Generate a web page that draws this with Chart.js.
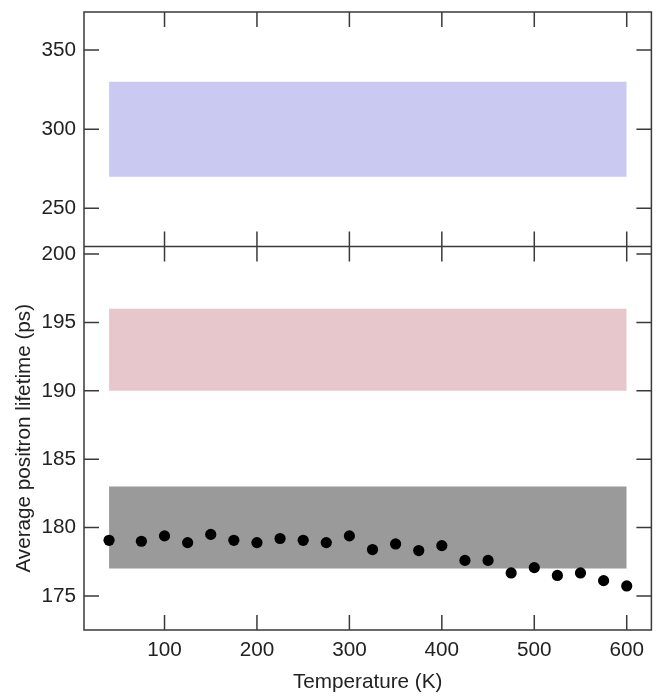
<!DOCTYPE html>
<html><head><meta charset="utf-8">
<script src="https://cdn.jsdelivr.net/npm/chart.js@4/dist/chart.umd.min.js"></script>
<style>html,body{margin:0;padding:0;background:#fff}#wrap{width:657px;height:697px}</style>
</head><body><div id="wrap"><canvas id="c" width="657" height="697"></canvas></div>
<script>
// ---- data ----
const temperatures = [40,75,100,125,150,175,200,225,250,275,300,325,350,375,400,425,450,475,500,525,550,575,600];
const lifetimes   = [179.07,179.0,179.39,178.9,179.5,179.07,178.9,179.2,179.07,178.9,179.39,178.39,178.8,178.32,178.68,177.6,177.6,176.68,177.07,176.5,176.68,176.12,175.73];
const bandRange = [40, 600];
const blueBand  = [270, 330];
const pinkBand  = [190, 196];
const greyBand  = [177, 183];
const xTicks      = [100,200,300,400,500,600];
const topTicks    = [250,300,350];
const bottomTicks = [175,180,185,190,195,200];

const FONT = {family:"'Liberation Sans', Arial, sans-serif", size:20.7};
const TXT = '#222';

function bandEdge(v){ return bandRange.map(x => ({x, y:v})); }
function bandSets(range, color, axis){
  return [
    {type:'line', data:bandEdge(range[1]), yAxisID:axis, borderWidth:0, pointRadius:0, fill:'+1', backgroundColor:color, order:2},
    {type:'line', data:bandEdge(range[0]), yAxisID:axis, borderWidth:0, pointRadius:0, fill:false, backgroundColor:color, order:2}
  ];
}

const frame = {
  id:'frame',
  afterDraw(chart){
    const {ctx, chartArea:a, scales} = chart;
    const x = scales.x, yt = scales.yTop, yb = scales.yBot;
    const L = 15;
    const mid = yb.top;
    ctx.save();
    ctx.strokeStyle = '#3a3a3a'; ctx.lineWidth = 1.5;
    ctx.beginPath();
    ctx.rect(a.left, a.top, a.right-a.left, a.bottom-a.top);
    ctx.moveTo(a.left, mid); ctx.lineTo(a.right, mid);
    x.ticks.forEach(t => {
      const px = x.getPixelForValue(t.value);
      ctx.moveTo(px, a.top); ctx.lineTo(px, a.top+L);
      ctx.moveTo(px, mid-L); ctx.lineTo(px, mid+L);
      ctx.moveTo(px, a.bottom); ctx.lineTo(px, a.bottom-L);
    });
    [yt, yb].forEach(s => s.ticks.forEach(t => {
      const py = s.getPixelForValue(t.value);
      ctx.moveTo(a.left, py); ctx.lineTo(a.left+L, py);
      ctx.moveTo(a.right, py); ctx.lineTo(a.right-L, py);
    }));
    ctx.stroke();
    ctx.restore();
  }
};

const yCommon = {
  type:'linear', position:'left', stack:'panels',
  grid:{display:false, drawTicks:false}, border:{display:false},
  ticks:{font:FONT, color:TXT, padding:8},
  afterFit(s){ s.width = 84; s.paddingTop = 0; s.paddingBottom = 0; }
};

new Chart(document.getElementById('c'), {
  type:'scatter',
  data:{datasets:[
    {type:'scatter', data:temperatures.map((t,i)=>({x:t, y:lifetimes[i]})), yAxisID:'yBot',
     pointRadius:5.6, pointBackgroundColor:'#000', pointBorderWidth:0, order:0},
    ...bandSets(blueBand, '#c9c9f1', 'yTop'),
    ...bandSets(pinkBand, '#e7c7cb', 'yBot'),
    ...bandSets(greyBand, '#9a9a9a', 'yBot')
  ]},
  options:{
    responsive:false, animation:false, events:[],
    layout:{padding:{top:12, right:4, left:0, bottom:0}},
    plugins:{legend:{display:false}, tooltip:{enabled:false}},
    scales:{
      x:{type:'linear', position:'bottom', min:12.9, max:626.7,
         grid:{display:false, drawTicks:false}, border:{display:false},
         afterBuildTicks(s){ s.ticks = xTicks.map(v=>({value:v})); },
         ticks:{font:FONT, color:TXT, padding:8, maxRotation:0},
         title:{display:true, text:'Temperature (K)', font:FONT, color:TXT, padding:{top:0,bottom:2}},
         afterFit(s){ s.height = 67; s.paddingLeft = 0; s.paddingRight = 0; }},
      yBot:{...yCommon, min:172.51, max:200.55, stackWeight:383.5,
         afterBuildTicks(s){ s.ticks = bottomTicks.map(v=>({value:v})); },
         title:{display:true, text:'Average positron lifetime (ps)', font:FONT, color:TXT, padding:{top:12,bottom:0}}},
      yTop:{...yCommon, min:225.9, max:374, stackWeight:234.5,
         afterBuildTicks(s){ s.ticks = topTicks.map(v=>({value:v})); }}
    }
  },
  plugins:[frame]
});
</script></body></html>
